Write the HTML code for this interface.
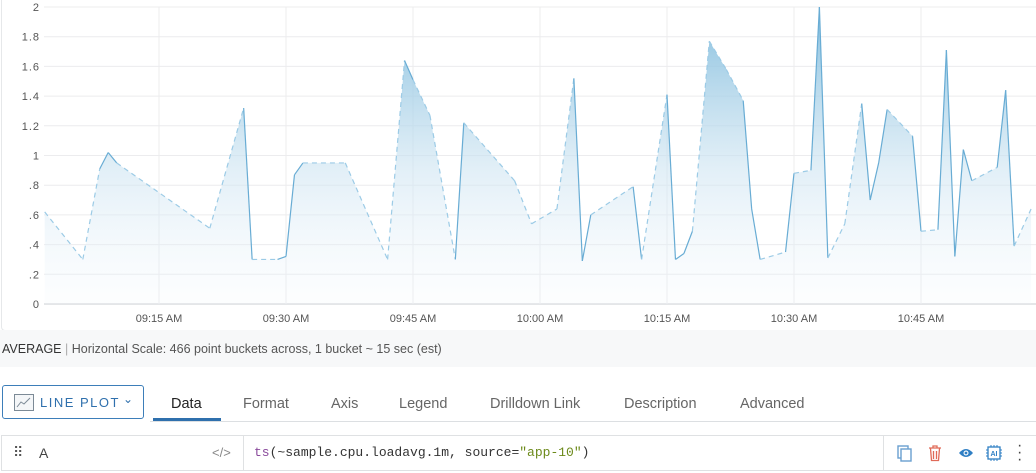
<!DOCTYPE html>
<html><head><meta charset="utf-8">
<style>
body{margin:0;width:1036px;height:473px;overflow:hidden;background:#fff;font-family:"Liberation Sans",sans-serif;position:relative}
.panel{position:absolute;left:1px;top:-4px;width:1040px;height:333px;border:1px solid #e6e8ea;border-radius:4px;background:#fff}
.graybar{position:absolute;left:0;top:330px;width:1036px;height:37px;background:#f7f8f9}
.stat{position:absolute;left:2px;top:342px;font-size:12.5px;color:#555}
.stat b{font-weight:normal;color:#333}
.btn{position:absolute;left:2px;top:385px;width:142px;height:34px;border:1px solid #3d7eb9;border-radius:3px;color:#2f70ad;font-size:13px;letter-spacing:1.5px;box-sizing:border-box}
.tab{position:absolute;top:396px;font-size:14.5px;color:#666}
.q{position:absolute;left:1px;top:435px;width:1040px;height:36px;border:1px solid #dfe1e3;box-sizing:border-box}
</style></head><body>
<div class="panel"></div>
<svg id="chart" width="1036" height="330" style="position:absolute;left:0;top:0">
<defs><linearGradient id="g" x1="0" y1="0" x2="0" y2="1"><stop offset="0" stop-color="#7dbadc" stop-opacity="0.95"/><stop offset="0.55" stop-color="#cfe5f2" stop-opacity="0.6"/><stop offset="1" stop-color="#eef5fb" stop-opacity="0.15"/></linearGradient></defs>
<g id="grid"></g><g id="area"></g><g id="lines"></g><g id="labels"></g>
</svg>
<div class="graybar"></div>
<div class="stat"><b>AVERAGE</b> <span style="color:#aaa">|</span> Horizontal Scale: 466 point buckets across, 1 bucket ~ 15 sec (est)</div>
<div class="btn">
<svg style="position:absolute;left:11px;top:8px" width="20" height="17"><rect x="0.5" y="0.5" width="19" height="16" fill="#f4f6f8" stroke="#7c8a96"/><polyline points="3,13 7,8 10,10 16,4" fill="none" stroke="#7c8a96"/></svg>
<span style="position:absolute;left:37px;top:9px">LINE PLOT</span><span style="position:absolute;left:120px;top:6px;font-size:12px">⌄</span></div>
<div style="position:absolute;left:150px;top:421px;width:886px;height:1px;background:#dcdfe2"></div>
<div style="position:absolute;left:153px;top:418px;width:68px;height:3px;background:#2f70ad"></div>
<div class="tab" style="left:171px;color:#222">Data</div>
<div class="tab" style="left:243px">Format</div>
<div class="tab" style="left:331px">Axis</div>
<div class="tab" style="left:399px">Legend</div>
<div class="tab" style="left:490px">Drilldown Link</div>
<div class="tab" style="left:624px">Description</div>
<div class="tab" style="left:740px">Advanced</div>
<div class="q">
<span style="position:absolute;left:11px;top:8px;color:#555;font-size:14px;letter-spacing:-1px">⠿</span>
<span style="position:absolute;left:37px;top:9px;font-size:14px;color:#444">A</span>
<span style="position:absolute;left:210px;top:9px;font-size:13px;color:#888">&lt;/&gt;</span>
<div style="position:absolute;left:241px;top:0;width:1px;height:34px;background:#dfe1e3"></div>
<div style="position:absolute;left:881px;top:0;width:1px;height:34px;background:#dfe1e3"></div>
<span style="position:absolute;left:252px;top:9px;font-family:'Liberation Mono',monospace;font-size:13px;color:#333"><span style="color:#8a4a9c">ts</span>(~sample.cpu.loadavg.1m, source=<span style="color:#6c8a1a">"app-10"</span>)</span>
<svg style="position:absolute;left:895px;top:9px" width="16" height="17"><rect x="1" y="1" width="10" height="12" fill="none" stroke="#6a9fd0" stroke-width="1.4"/><rect x="4" y="4" width="10" height="12" fill="#fff" stroke="#6a9fd0" stroke-width="1.4"/></svg>
<svg style="position:absolute;left:926px;top:9px" width="14" height="17"><path d="M1 3h12M5 3V1h4v2M2.5 3.5l1 12h7l1-12M5.5 6v8M8.5 6v8" fill="none" stroke="#e06a58" stroke-width="1.3"/></svg>
<svg style="position:absolute;left:956px;top:11px" width="16" height="12"><path d="M1 6Q8 -2 15 6Q8 14 1 6Z" fill="#2f7fc4"/><circle cx="8" cy="6" r="2.5" fill="#fff"/><circle cx="8" cy="6" r="1.4" fill="#2f7fc4"/></svg>
<svg style="position:absolute;left:983px;top:8px" width="18" height="18"><rect x="3" y="3" width="12" height="12" fill="none" stroke="#2f7fc4" stroke-width="1.3"/><path d="M6 1v2M9 1v2M12 1v2M6 15v2M9 15v2M12 15v2M1 6h2M1 9h2M1 12h2M15 6h2M15 9h2M15 12h2" stroke="#2f7fc4"/><text x="9" y="12" font-size="7" text-anchor="middle" fill="#2f7fc4" font-family="Liberation Sans" font-weight="bold">AI</text></svg>
<span style="position:absolute;left:1015px;top:6px;color:#444;font-size:16px;line-height:7px">·<br>·<br>·</span>
</div>
<script>
const minutes=[1.5,6,8,9,10,21,25,26,29,30,31,32,37,42,44,45,47,50,51,57,59,62,64,65,66,71,72,75,76,77,78,80,82,84,85,86,89,90,92,93,94,96,98,99,100,101,104,105,107,108,109,110,111,114,115,116,118];
const values=[0.62,0.30,0.91,1.02,0.95,0.51,1.32,0.30,0.30,0.32,0.87,0.95,0.95,0.30,1.64,1.51,1.27,0.30,1.22,0.83,0.54,0.64,1.52,0.29,0.60,0.79,0.30,1.41,0.30,0.34,0.49,1.77,1.58,1.37,0.64,0.30,0.35,0.88,0.90,2.0,0.31,0.54,1.35,0.70,0.95,1.31,1.13,0.49,0.50,1.71,0.32,1.04,0.83,0.92,1.44,0.39,0.64];
const yTicks=[0,0.2,0.4,0.6,0.8,1,1.2,1.4,1.6,1.8,2];
const yTickLabels=["0",".2",".4",".6",".8","1","1.2","1.4","1.6","1.8","2"];
const xTicks=[15,30,45,60,75,90,105];
const xTickLabels=["09:15 AM","09:30 AM","09:45 AM","10:00 AM","10:15 AM","10:30 AM","10:45 AM"];
const X0=44,X1=1030,Y0=304,Y1=7;
const xs=m=>159+(m-15)*(127/15);
const ys=v=>Y0-(v/2)*(Y0-Y1);
const NS="http://www.w3.org/2000/svg";
function mk(t,a,p){const e=document.createElementNS(NS,t);for(const k in a)e.setAttribute(k,a[k]);p.appendChild(e);return e;}
const grid=document.getElementById('grid'),lab=document.getElementById('labels');
yTicks.forEach((v,i)=>{
 const l=mk('line',{x1:X0,x2:1036,y1:ys(v),y2:ys(v),stroke:i==0?'#e4e6e8':'#ececee','stroke-width':i==0?2:1},grid);
 
 
 const t=mk('text',{x:40,y:ys(v)+4,'text-anchor':'end','font-size':'11','fill':'#555','letter-spacing':'1','font-family':'Liberation Sans'},lab);
 t.textContent=yTickLabels[i];
 
 
});
xTicks.forEach((m,i)=>{
 const l=mk('line',{x1:xs(m),x2:xs(m),y1:Y1,y2:Y0,stroke:'#ececee'},grid);
 
 
 const t=mk('text',{x:xs(m),y:322,'text-anchor':'middle','font-size':'11','fill':'#555','font-family':'Liberation Sans'},lab);
 t.textContent=xTickLabels[i];
 
 
});
let d='M'+xs(minutes[0])+','+Y0;
minutes.forEach((m,i)=>{d+=' L'+xs(m)+','+ys(values[i]);});
d+=' L'+xs(minutes[minutes.length-1])+','+Y0+' Z';
const area=mk('path',{d:d,fill:'url(#g)'},document.getElementById('area'));


const lg=document.getElementById('lines');
for(let i=1;i<minutes.length;i++){
 const dash=(minutes[i]-minutes[i-1])>1.5;
 const s=mk('line',{x1:xs(minutes[i-1]),y1:ys(values[i-1]),x2:xs(minutes[i]),y2:ys(values[i]),stroke:dash?'#9ccbe6':'#68acd4','stroke-width':1.2,'stroke-dasharray':dash?'5,4':'none'},lg);
 
 
}
</script>
</body></html>
